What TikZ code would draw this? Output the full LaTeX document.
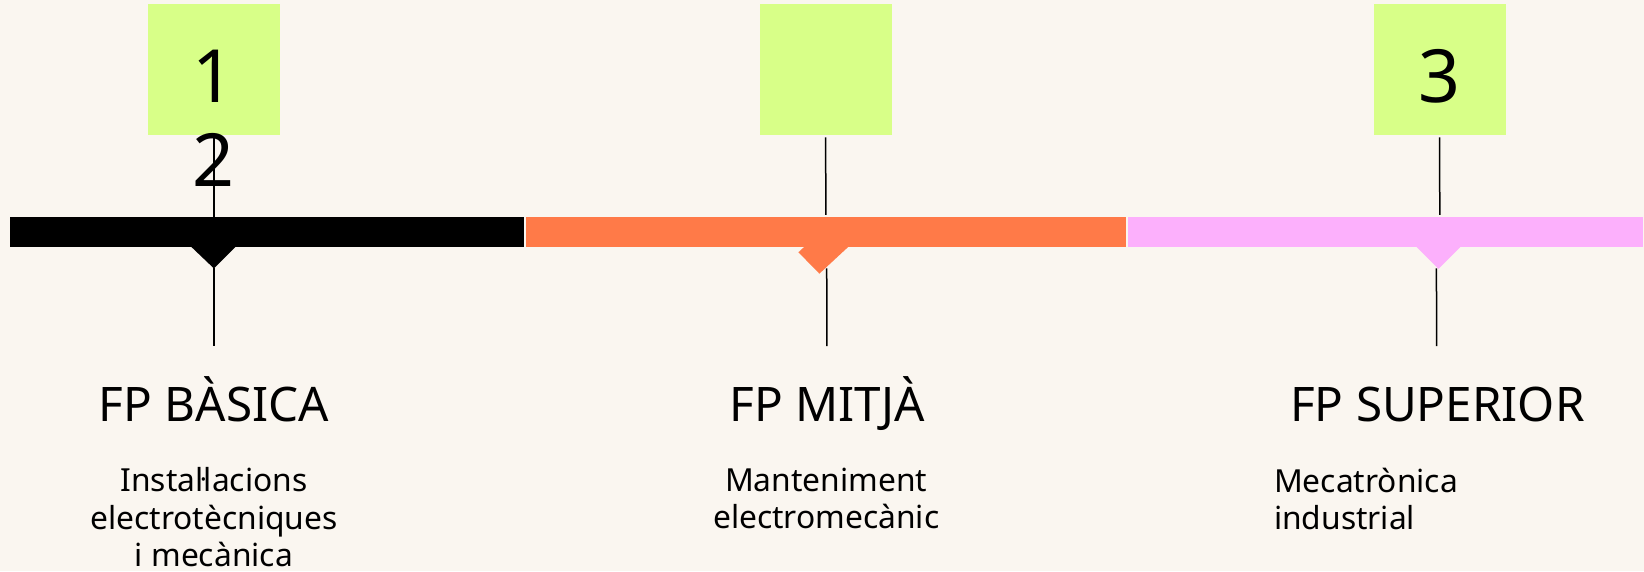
\documentclass[tikz,border=0pt]{standalone}
\usepackage{fontspec}
\setmainfont{Noto Sans}
\definecolor{bg}{HTML}{FAF6F0}
\definecolor{lime}{HTML}{D8FF88}
\definecolor{orng}{HTML}{FF7A48}
\definecolor{pnk}{HTML}{FCB0FC}
\begin{document}
\begin{tikzpicture}[x=1pt,y=-1pt,scale=1.0485,transform shape,
  numbox/.style={fill=lime, minimum width=126pt, minimum height=125pt, inner sep=0pt},
  barbox/.style={minimum height=29pt, inner sep=0pt},
  stem/.style={line width=1.5pt, black},
  numtxt/.style={font=\fontsize{70}{80}\selectfont, anchor=base, inner sep=0pt},
  title/.style={font=\fontsize{45.4}{50}\selectfont, anchor=base, inner sep=0pt},
  desc/.style={font=\fontsize{30.3}{35.5}\selectfont, anchor=north, inner sep=0pt}]
\fill[bg] (0,0) rectangle (1568,544.6);
\useasboundingbox (0,0) rectangle (1568,544.6);
% boxes
\node[numbox] (b1) at (204,66.5) {};
\node[numbox] (b2) at (788,66.5) {};
\node[numbox] (b3) at (1373,66.5) {};
% bars
\node[barbox, fill=black, minimum width=490pt] (bar1) at (255,221.5) {};
\node[barbox, fill=orng, minimum width=572pt] (bar2) at (788,221.5) {};
\node[barbox, fill=pnk, minimum width=491pt] (bar3) at (1321.5,221.5) {};
% markers
\fill[black] (182.5,235.5) -- (204,256) coordinate (m1) -- (224.5,235.5) -- cycle;
\fill[orng] (767,235.5) -- (761.5,240.6) -- (781.5,261) coordinate (m2) -- (809,235.5) -- cycle;
\fill[pnk] (1351,235.5) -- (1372,256.5) coordinate (m3) -- (1393,235.5) -- cycle;
% stems
\coordinate (t1) at (204,207);
\coordinate (t2) at (787.5,205);
\coordinate (t3) at (1373,205);
\draw[stem] (b1.south) -- (t1);
\draw[stem] (787.5,131) -- (t2);
\draw[stem] (1373,131) -- (t3);
\coordinate (e1) at (204,330);
\coordinate (e2) at (788.5,330);
\coordinate (e3) at (1370,330);
\draw[stem] (m1) -- (e1);
\draw[stem] (788.5,256) -- (e2);
\draw[stem] (1370,256) -- (e3);
% numbers
\node[numtxt] (n1) at (204,98) {1};
\node[numtxt] (n2) at (204,178) {2};
\node[numtxt] (n3) at (1373,98) {3};
% titles
\node[title] (h1) at (204,402) {FP BÀSICA};
\node[title] (h2) at (789,402) {FP MITJÀ};
\node[title] (h3) at (1371,402) {FP SUPERIOR};
% descriptions
\node[desc, align=center] (d1) at (204,446) {Instaŀlacions\\electrotècniques\\i mecànica};
\node[desc, align=center] (d2) at (788,446) {Manteniment\\electromecànic};
\node[desc, align=left, anchor=north west] (d3) at (1215,446) {Mecatrònica\\industrial};
\end{tikzpicture}
\end{document}
